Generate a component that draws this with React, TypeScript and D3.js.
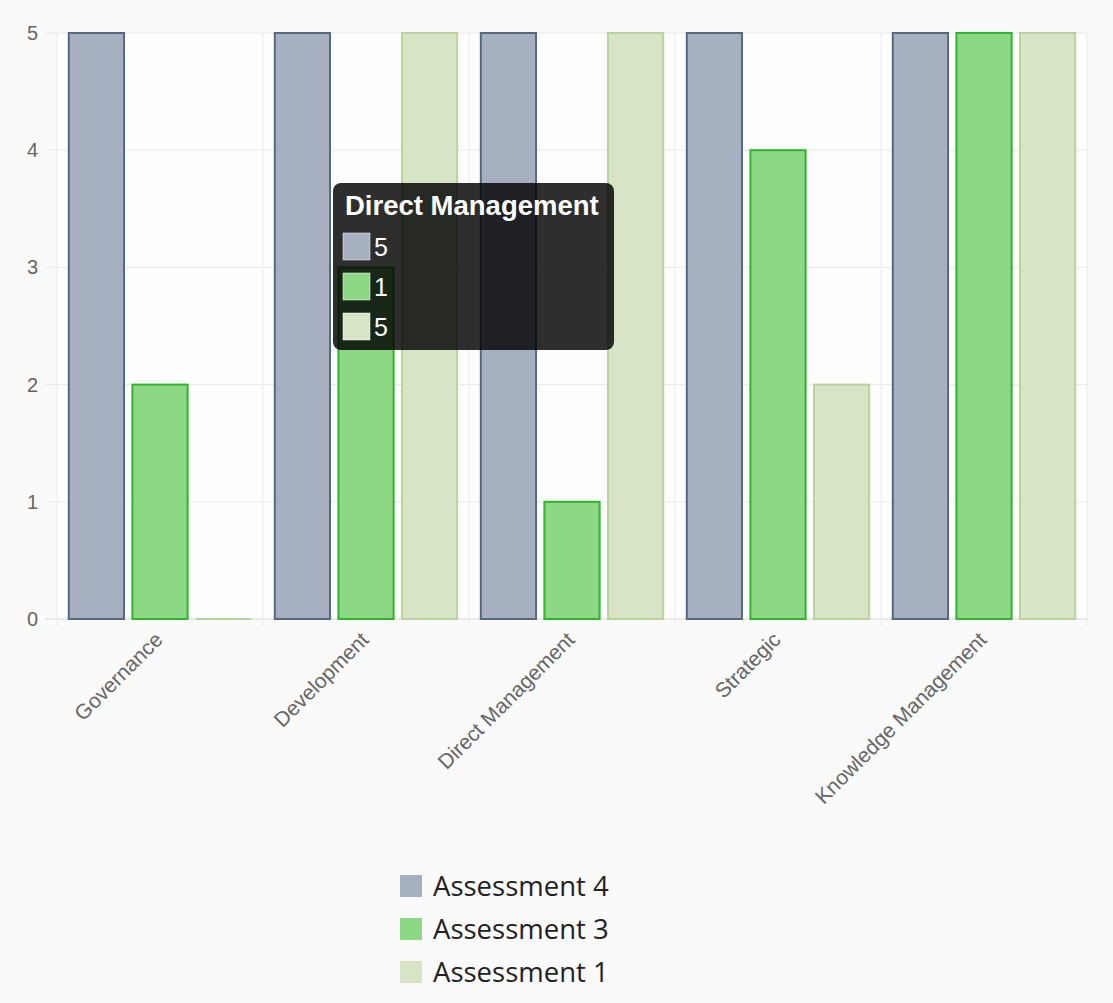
import React from "react";
import * as d3 from "d3";

const categories = ["Governance", "Development", "Direct Management", "Strategic", "Knowledge Management"];
const seriesNames = ["Assessment 4", "Assessment 3", "Assessment 1"];
const assessment4 = [5, 5, 5, 5, 5];
const assessment3 = [2, 3, 1, 4, 5];
const assessment1 = [0, 5, 5, 2, 5];
const yTicks = [0, 1, 2, 3, 4, 5];
const fills = ["#a6b0c0", "#8dd884", "#d8e4c6"];
const strokes = ["#56697f", "#2fb52b", "#b9d39c"];
const tooltipIndex = 2;

const W = 1113, H = 1003;
const left = 57, right = 1087, top = 33, bottom = 619;

export default function App() {
  const series = [assessment4, assessment3, assessment1];
  const x = d3.scaleBand<string>().domain(categories).range([left, right]).paddingInner(0).paddingOuter(0);
  const inner = d3.scaleBand<number>().domain([0, 1, 2]).range([0, x.bandwidth()]).paddingInner(0.1).paddingOuter(0.17);
  const y = d3.scaleLinear().domain([0, 5]).range([bottom, top]);
  const bounds = categories.map((c) => x(c) as number).concat([right]);
  const tooltipVals = series.map((s) => s[tooltipIndex]);
  return (
    <svg width={W} height={H} style={{ position: "absolute", left: 0, top: 0, background: "#fafafa" }}
      fontFamily="'Liberation Sans', Arial, sans-serif">
      <rect x={left} y={top} width={right - left} height={bottom - top} fill="#fdfdfd" />
      {yTicks.map((t) => (
        <g key={t}>
          <line x1={45} x2={right} y1={y(t)} y2={y(t)} stroke={t === 0 ? "#d8d8d8" : "#ebebeb"} strokeWidth={1} />
          <text x={38} y={y(t)} dy="0.35em" textAnchor="end" fontSize={20} fill="#666">{t}</text>
        </g>
      ))}
      {bounds.map((b, i) => (
        <line key={i} x1={b} x2={b} y1={top} y2={bottom + 8} stroke="#ebebeb" strokeWidth={1} />
      ))}
      {categories.map((c, ci) => (
        <g key={c}>
          {series.map((s, si) => {
            const bx = (x(c) as number) + (inner(si) as number);
            const v = s[ci];
            const yTop = y(v);
            const w = inner.bandwidth() - 2;
            if (v === 0) {
              return <line key={si} x1={bx + 1} x2={bx + 1 + w} y1={bottom} y2={bottom} stroke={strokes[si]} strokeWidth={2} />;
            }
            return (
              <rect key={si} x={bx + 1} y={yTop} width={w} height={bottom - yTop}
                fill={fills[si]} stroke={strokes[si]} strokeWidth={2} />
            );
          })}
          <text transform={`translate(${(x(c) as number) + x.bandwidth() / 2 + 4},${bottom + 22}) rotate(-45)`}
            textAnchor="end" fontSize={21} fill="#666">{c}</text>
        </g>
      ))}
      {/* legend */}
      {seriesNames.map((n, i) => (
        <g key={n} transform={`translate(400,${875 + i * 43})`}>
          <rect x={0} y={0} width={22} height={22} fill={fills[i]} />
          <text x={33} y={11} dy="0.36em" fontSize={27.5} fill="#222" fontFamily="'Open Sans', 'Noto Sans', sans-serif">{n}</text>
        </g>
      ))}
      {/* tooltip */}
      <g>
        <rect x={333} y={183} width={281} height={167} rx={8} fill="rgba(0,0,0,0.82)" />
        <text x={345} y={215} fontSize={27.5} fontWeight="bold" fill="#fff">{categories[tooltipIndex]}</text>
        {tooltipVals.map((v, i) => (
          <g key={i} transform={`translate(343,${233 + i * 40})`}>
            <rect x={0} y={0} width={27} height={27} fill={fills[i]} stroke="#fff" strokeWidth={0.5} />
            <text x={31} y={14} dy="0.36em" fontSize={25} fill="#fff">{v}</text>
          </g>
        ))}
      </g>
    </svg>
  );
}
